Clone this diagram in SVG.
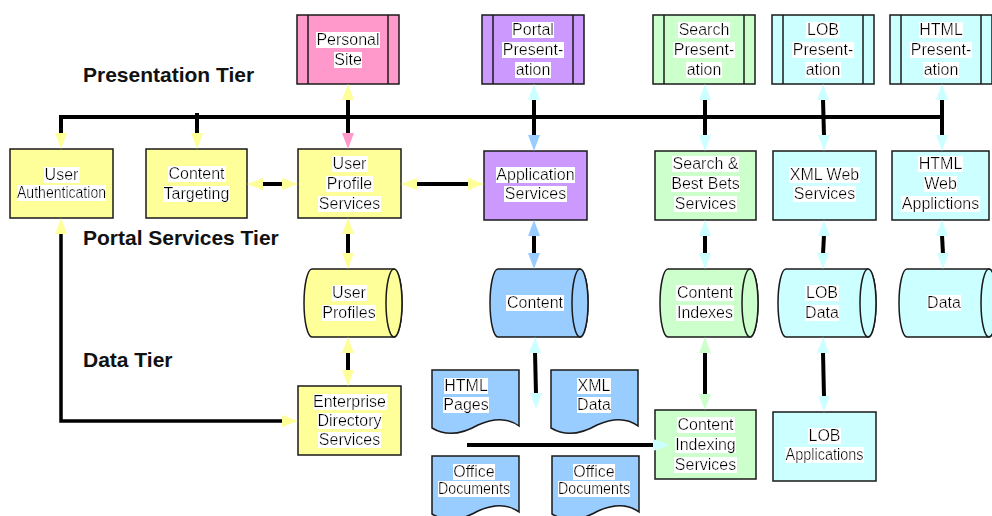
<svg xmlns="http://www.w3.org/2000/svg" xmlns:xlink="http://www.w3.org/1999/xlink" width="992" height="516" viewBox="0 0 992 516">
<defs>
<filter id="hl" x="0" y="0.06" width="1" height="0.9"><feFlood flood-color="#ffffff"/><feComposite in="SourceGraphic" operator="over"/></filter>
<path id="doc" d="M0,0 H87 V56 Q71,44 46,55 Q20,70 0,58 Z"/>
<g id="cyl"><path d="M8,0 H90 A8,34 0 0 1 90,68 H8 A8,34 0 0 1 8,0 Z"/><ellipse cx="90" cy="34" rx="8" ry="34"/></g>
<g id="pres"><rect x="0" y="0" width="102" height="69"/><line x1="11" y1="0" x2="11" y2="69"/><line x1="91" y1="0" x2="91" y2="69"/></g>
</defs>
<style>
.box{stroke:#1a1a1a;stroke-width:1.5}
.y{fill:#ffff99}.p{fill:#ff99cc}.v{fill:#cc99ff}.g{fill:#ccffcc}.c{fill:#ccffff}.b{fill:#99ccff}
.t{font-family:"Liberation Sans",Arial,sans-serif;font-size:16px;text-anchor:middle;fill:#000;filter:url(#hl)}
.tier{font-family:"Liberation Sans",Arial,sans-serif;font-size:21px;font-weight:bold;fill:#111}
.ln{stroke:#000;stroke-width:4;fill:none}
.ln3{stroke:#000;stroke-width:3.5;fill:none}
</style>
<rect width="992" height="516" fill="#ffffff"/>

<g id="labels">
<text class="tier" x="83" y="82">Presentation Tier</text>
<text class="tier" x="83" y="245">Portal Services Tier</text>
<text class="tier" x="83" y="367">Data Tier</text>
</g>

<g id="personal-site"><use xlink:href="#pres" class="box p" x="297" y="15"/>
<text class="t" x="348" y="45">Personal</text><text class="t" x="348" y="65">Site</text></g>
<g id="portal-presentation"><use xlink:href="#pres" class="box v" x="482" y="15"/>
<text class="t" x="533" y="35">Portal</text><text class="t" x="533" y="55">Present-</text><text class="t" x="533" y="75">ation</text></g>
<g id="search-presentation"><use xlink:href="#pres" class="box g" x="653" y="15"/>
<text class="t" x="704" y="35">Search</text><text class="t" x="704" y="55">Present-</text><text class="t" x="704" y="75">ation</text></g>
<g id="lob-presentation"><use xlink:href="#pres" class="box c" x="772" y="15"/>
<text class="t" x="823" y="35">LOB</text><text class="t" x="823" y="55">Present-</text><text class="t" x="823" y="75">ation</text></g>
<g id="html-presentation"><use xlink:href="#pres" class="box c" x="890" y="15"/>
<text class="t" x="941" y="35">HTML</text><text class="t" x="941" y="55">Present-</text><text class="t" x="941" y="75">ation</text></g>

<g id="user-authentication"><rect class="box y" x="10" y="149" width="103" height="69"/>
<text class="t" x="61.5" y="180">User</text><text class="t" x="61.5" y="198" textLength="89" lengthAdjust="spacingAndGlyphs">Authentication</text></g>
<g id="content-targeting"><rect class="box y" x="146" y="149" width="101" height="69"/>
<text class="t" x="196.5" y="179">Content</text><text class="t" x="196.5" y="199">Targeting</text></g>
<g id="user-profile-services"><rect class="box y" x="298" y="149" width="103" height="69"/>
<text class="t" x="349.5" y="169">User</text><text class="t" x="349.5" y="189">Profile</text><text class="t" x="349.5" y="209">Services</text></g>
<g id="application-services"><rect class="box v" x="484" y="151" width="103" height="69"/>
<text class="t" x="535.5" y="180">Application</text><text class="t" x="535.5" y="199">Services</text></g>
<g id="search-best-bets-services"><rect class="box g" x="655" y="151" width="101" height="69"/>
<text class="t" x="705.5" y="169">Search &amp;</text><text class="t" x="705.5" y="189">Best Bets</text><text class="t" x="705.5" y="209">Services</text></g>
<g id="xml-web-services"><rect class="box c" x="773" y="151" width="103" height="69"/>
<text class="t" x="824.5" y="180">XML Web</text><text class="t" x="824.5" y="199">Services</text></g>
<g id="html-web-applictions"><rect class="box c" x="892" y="151" width="97" height="69"/>
<text class="t" x="940.5" y="169">HTML</text><text class="t" x="940.5" y="189">Web</text><text class="t" x="940.5" y="209">Applictions</text></g>

<g id="user-profiles"><use xlink:href="#cyl" class="box y" x="304" y="269"/>
<text class="t" x="349" y="298">User</text><text class="t" x="349" y="318">Profiles</text></g>
<g id="content"><use xlink:href="#cyl" class="box b" x="490" y="269"/>
<text class="t" x="535" y="308">Content</text></g>
<g id="content-indexes"><use xlink:href="#cyl" class="box g" x="660" y="269"/>
<text class="t" x="705" y="298">Content</text><text class="t" x="705" y="318">Indexes</text></g>
<g id="lob-data"><use xlink:href="#cyl" class="box c" x="778" y="269"/>
<text class="t" x="822" y="298">LOB</text><text class="t" x="822" y="318">Data</text></g>
<g id="data"><use xlink:href="#cyl" class="box c" x="899" y="269"/>
<text class="t" x="944" y="308">Data</text></g>

<g id="enterprise-directory-services"><rect class="box y" x="298" y="386" width="103" height="69"/>
<text class="t" x="349.5" y="407">Enterprise</text><text class="t" x="349.5" y="426">Directory</text><text class="t" x="349.5" y="445">Services</text></g>
<g id="content-indexing-services"><rect class="box g" x="655" y="410" width="101" height="69"/>
<text class="t" x="705.5" y="430">Content</text><text class="t" x="705.5" y="450">Indexing</text><text class="t" x="705.5" y="470">Services</text></g>
<g id="lob-applications"><rect class="box c" x="773" y="412" width="103" height="69"/>
<text class="t" x="824.5" y="441">LOB</text><text class="t" x="824.5" y="460" textLength="78" lengthAdjust="spacingAndGlyphs">Applications</text></g>

<g id="html-pages"><use xlink:href="#doc" class="box b" x="432" y="370"/>
<text class="t" x="466" y="391">HTML</text><text class="t" x="466" y="410">Pages</text></g>
<g id="xml-data"><use xlink:href="#doc" class="box b" x="551" y="370"/>
<text class="t" x="594" y="391">XML</text><text class="t" x="594" y="410">Data</text></g>
<g id="office-documents-1"><use xlink:href="#doc" class="box b" x="432" y="456"/>
<text class="t" x="474" y="477">Office</text><text class="t" x="474" y="494" textLength="72" lengthAdjust="spacingAndGlyphs">Documents</text></g>
<g id="office-documents-2"><use xlink:href="#doc" class="box b" x="552" y="456"/>
<text class="t" x="594" y="477">Office</text><text class="t" x="594" y="494" textLength="72" lengthAdjust="spacingAndGlyphs">Documents</text></g>

<g id="connectors">
<line class="ln" x1="59" y1="117" x2="944" y2="117"/>
<!-- drops from bus -->
<line class="ln" x1="61" y1="115" x2="61" y2="134"/><polygon class="y" points="55,133 67,133 61,149"/>
<line class="ln" x1="197" y1="113" x2="197" y2="134"/><polygon class="y" points="191,133 203,133 197,149"/>
<line class="ln" x1="348" y1="99" x2="348" y2="134"/><polygon class="y" points="342,100 354,100 348,84"/><polygon class="p" points="342,133 354,133 348,149"/>
<line class="ln" x1="534" y1="99" x2="534" y2="136"/><polygon class="c" points="528,100 540,100 534,84"/><polygon class="b" points="528,135 540,135 534,151"/>
<line class="ln" x1="705" y1="99" x2="705" y2="136"/><polygon class="c" points="699,100 711,100 705,84"/><polygon class="c" points="699,135 711,135 705,151"/>
<line class="ln" x1="823" y1="99" x2="824" y2="136"/><polygon class="c" points="817,100 829,100 823,84"/><polygon class="c" points="818,135 830,135 824,151"/>
<line class="ln" x1="942" y1="99" x2="942" y2="136"/><polygon class="c" points="936,100 948,100 942,84"/><polygon class="c" points="936,135 948,135 942,151"/>
<!-- row 2 horizontals -->
<line class="ln" x1="262" y1="184" x2="283" y2="184"/><polygon class="y" points="263,178 263,190 247,184"/><polygon class="y" points="282,178 282,190 298,184"/>
<line class="ln" x1="416" y1="184" x2="469" y2="184"/><polygon class="y" points="417,178 417,190 401,184"/><polygon class="y" points="468,178 468,190 484,184"/>
<!-- row 2 to row 3 -->
<line class="ln" x1="348" y1="233" x2="348" y2="254"/><polygon class="y" points="342,234 354,234 348,218"/><polygon class="y" points="342,253 354,253 348,269"/>
<line class="ln" x1="534" y1="235" x2="534" y2="254"/><polygon class="b" points="528,236 540,236 534,220"/><polygon class="b" points="528,253 540,253 534,269"/>
<line class="ln" x1="705" y1="235" x2="705" y2="254"/><polygon class="c" points="699,236 711,236 705,220"/><polygon class="c" points="699,253 711,253 705,269"/>
<line class="ln" x1="824" y1="235" x2="823" y2="254"/><polygon class="c" points="818,236 830,236 824,220"/><polygon class="c" points="817,253 829,253 823,269"/>
<line class="ln" x1="942" y1="235" x2="943" y2="254"/><polygon class="c" points="936,236 948,236 942,220"/><polygon class="c" points="937,253 949,253 943,269"/>
<!-- row 3 to row 4 -->
<line class="ln" x1="348" y1="352" x2="348" y2="371"/><polygon class="y" points="342,353 354,353 348,337"/><polygon class="y" points="342,370 354,370 348,386"/>
<line class="ln" x1="535" y1="352" x2="536" y2="394"/><polygon class="c" points="529,353 541,353 535,337"/><polygon class="c" points="530,393 542,393 536,409"/>
<line class="ln" x1="705" y1="352" x2="705" y2="395"/><polygon class="g" points="699,353 711,353 705,337"/><polygon class="g" points="699,394 711,394 705,410"/>
<line class="ln" x1="823" y1="352" x2="824" y2="397"/><polygon class="c" points="817,353 829,353 823,337"/><polygon class="c" points="818,396 830,396 824,412"/>
<!-- user auth to enterprise directory -->
<polyline class="ln3" points="61,233 61,421 284,421"/><polygon class="y" points="55,234 67,234 61,218"/><polygon class="y" points="282,415 282,427 298,421"/>
<!-- documents to content indexing -->
<line class="ln" x1="467" y1="445" x2="654" y2="445"/><polygon class="c" points="653,439 653,451 670,445"/>
</g>
</svg>
